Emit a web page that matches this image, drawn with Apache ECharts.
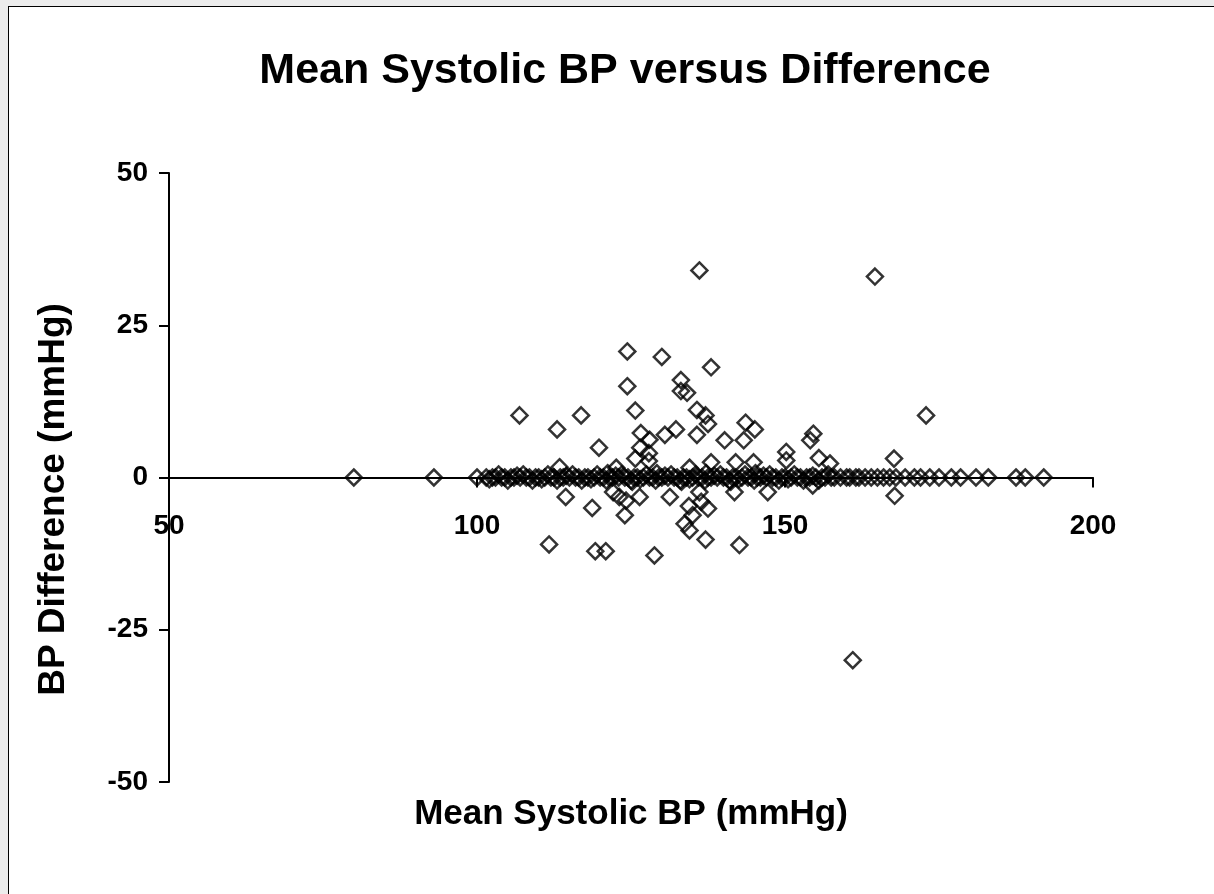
<!DOCTYPE html>
<html>
<head>
<meta charset="utf-8">
<title>Mean Systolic BP versus Difference</title>
<script src="https://cdn.jsdelivr.net/npm/echarts@6/dist/echarts.min.js"></script>
<style>
  html, body { margin: 0; padding: 0; background: #ececec; overflow: hidden; }
  #frame { position: absolute; left: 8px; top: 6px; width: 1230px; height: 910px; border: 1px solid #000; background: #fff; }
  #chart { position: absolute; left: 0; top: 0; width: 1214px; height: 894px; }
</style>
</head>
<body>
<div id="frame"></div>
<div id="chart"></div>
<script>
    // means with a difference of exactly 0
    var zeroMeans = [80, 93, 100, 101.5, 102.5, 103, 104, 104.5, 105.5, 106, 107, 108, 108.5, 109.5, 110, 111,
        112, 112.5, 113.5, 114, 115, 116, 116.5, 117.5, 118, 119, 120, 120.5, 121.5, 122, 123, 124, 124.5,
        125.5, 126, 127, 128, 128.5, 129.5, 130, 131, 132, 132.5, 133.5, 134, 135, 136, 136.5, 137.5, 138,
        139, 140, 140.5, 141.5, 142, 143, 144, 144.5, 145.5, 146, 147, 148, 148.5, 149.5, 150, 151, 152,
        152.5, 153.5, 154, 155, 156, 156.5, 157.5, 158, 159, 160, 160.5, 161.5, 162, 163, 164, 165, 166,
        167, 168, 169.5, 171, 172, 173.5, 175, 177, 178.5, 181, 183, 187.5, 189, 192];

    // points sitting just off the zero line
    var nearMeans = [103.5, 105, 107.5, 109, 111.5, 113, 115.5, 117, 119.5, 121, 123.5, 125, 127.5, 129, 131.5,
        133, 135.5, 137, 139.5, 141, 143.5, 145, 147.5, 149, 151.5, 153, 155.5, 157,
        102, 106.5, 110.5, 114.5, 118.5, 122.5, 126.5, 130.5, 134.5, 138.5, 142.5, 146.5, 150.5, 154.5,
        121.2, 125.2, 129.2, 133.2, 137.2, 141.2, 145.2];
    var nearDiffs = [0.5, -0.5, 0.5, -0.5, 0.5, -0.5, 0.5, -0.5, 0.5, -0.5, 0.5, -0.5, 0.5, -0.5, 0.5,
        -0.5, 0.5, -0.5, 0.5, -0.5, 0.5, -0.5, 0.5, -0.5, 0.5, -0.5, -0.5, 0.5,
        -0.3, 0.3, -0.3, 0.3, -0.3, 0.3, -0.3, 0.3, -0.3, 0.3, -0.3, 0.3, -0.3, 0.3,
        0.7, -0.7, 0.7, -0.7, 0.7, -0.7, 0.7];

    // the scattered ones
    var otherMeans = [136.1, 164.6, 124.4, 130, 138, 124.4, 133.1, 133.1, 134.1, 125.7, 135.7, 137.1, 106.9,
        116.9, 172.9, 137.5, 143.6, 145.1, 113, 132.3, 130.5, 126.6, 128, 135.7, 140.2, 143.3, 154.6, 154.1,
        119.8, 126.5, 127.9, 125.7, 150.2, 155.5, 157.3, 167.7, 138, 142, 144.9, 150.2, 127.9, 122.6, 134.5,
        113.4,
        114.4, 118.7, 122.1, 123.1, 124.2, 126.4, 124, 131.3, 136.1, 136.4, 134.4, 137.5, 135, 133.7, 134.5,
        137.1, 142.6, 128.8, 111.7, 119.2, 120.9, 141.8, 147.2, 154.5, 167.8, 161];
    var otherDiffs = [34, 33, 20.7, 19.8, 18.1, 15, 16, 14.2, 13.9, 11, 11.1, 10.2, 10.2,
        10.2, 10.2, 8.8, 9, 7.9, 7.9, 7.9, 7, 7.3, 6.2, 7, 6.1, 6.1, 7.2, 6.1,
        4.9, 4.9, 4, 3.1, 4.2, 3.2, 2.3, 3.1, 2.5, 2.5, 2.5, 2.8, 2.7, 1.6, 1.6,
        1.7,
        -3.2, -5, -2.4, -3.2, -3.8, -3.2, -6.2, -3.2, -2.4, -4, -4.7, -5.1, -6.2, -7.6, -8.7,
        -10.2, -11.1, -12.8, -11, -12.1, -12.1, -2.4, -2.4, -1.3, -3, -30];

    var xTicks = { min: 50, max: 200, step: 50 };
    var yTicks = { min: -50, max: 50, step: 25 };

    var points = [];
    zeroMeans.forEach(function (m) { points.push([m, 0]); });
    nearMeans.forEach(function (m, i) { points.push([m, nearDiffs[i]]); });
    otherMeans.forEach(function (m, i) { points.push([m, otherDiffs[i]]); });

    var font = "'Liberation Sans', Arial, sans-serif";
    var chart = echarts.init(document.getElementById('chart'));

    // x axis sits on the zero line: half of the plot height above the bottom
    var plotTop = 173, plotBottom = 112, plotHeight = 894 - plotTop - plotBottom;

    var option = {
        animation: false,
        title: {
            text: 'Mean Systolic BP versus Difference',
            left: 620,
            textAlign: 'center',
            top: 45,
            textStyle: { fontFamily: font, fontSize: 43, fontWeight: 'bold', color: '#000' }
        },
        grid: { left: 169, right: 121, top: plotTop, bottom: plotBottom, containLabel: false, outerBoundsMode: 'none' },
        xAxis: {
            type: 'value',
            min: xTicks.min, max: xTicks.max, interval: xTicks.step,
            offset: -plotHeight / 2,
            name: 'Mean Systolic BP (mmHg)',
            nameLocation: 'middle',
            nameGap: 319,
            nameTextStyle: { fontFamily: font, fontSize: 35, fontWeight: 'bold', color: '#000' },
            axisLine: { onZero: false, lineStyle: { color: '#000', width: 2 } },
            axisTick: { show: true, inside: false, length: 10, lineStyle: { color: '#000', width: 2 } },
            axisLabel: { margin: 35, fontFamily: font, fontSize: 28, fontWeight: 'bold', color: '#000' },
            splitLine: { show: false }
        },
        yAxis: {
            type: 'value',
            min: yTicks.min, max: yTicks.max, interval: yTicks.step,
            name: 'BP Difference (mmHg)',
            nameLocation: 'middle',
            nameGap: 97,
            nameRotate: 90,
            nameTextStyle: { fontFamily: font, fontSize: 37, fontWeight: 'bold', color: '#000', padding: [0, 44, 0, 0] },
            axisLine: { show: true, onZero: false, lineStyle: { color: '#000', width: 2 } },
            axisTick: { show: true, inside: false, length: 10, lineStyle: { color: '#000', width: 2 } },
            axisLabel: { margin: 21, fontFamily: font, fontSize: 28, fontWeight: 'bold', color: '#000' },
            splitLine: { show: false }
        },
        series: [{
            type: 'scatter',
            symbol: 'diamond',
            symbolSize: 16,
            itemStyle: { color: 'rgba(0,0,0,0)', borderColor: '#000', borderWidth: 2.5 },
            data: points
        }]
    };

    chart.setOption(option);
</script>
</body>
</html>
